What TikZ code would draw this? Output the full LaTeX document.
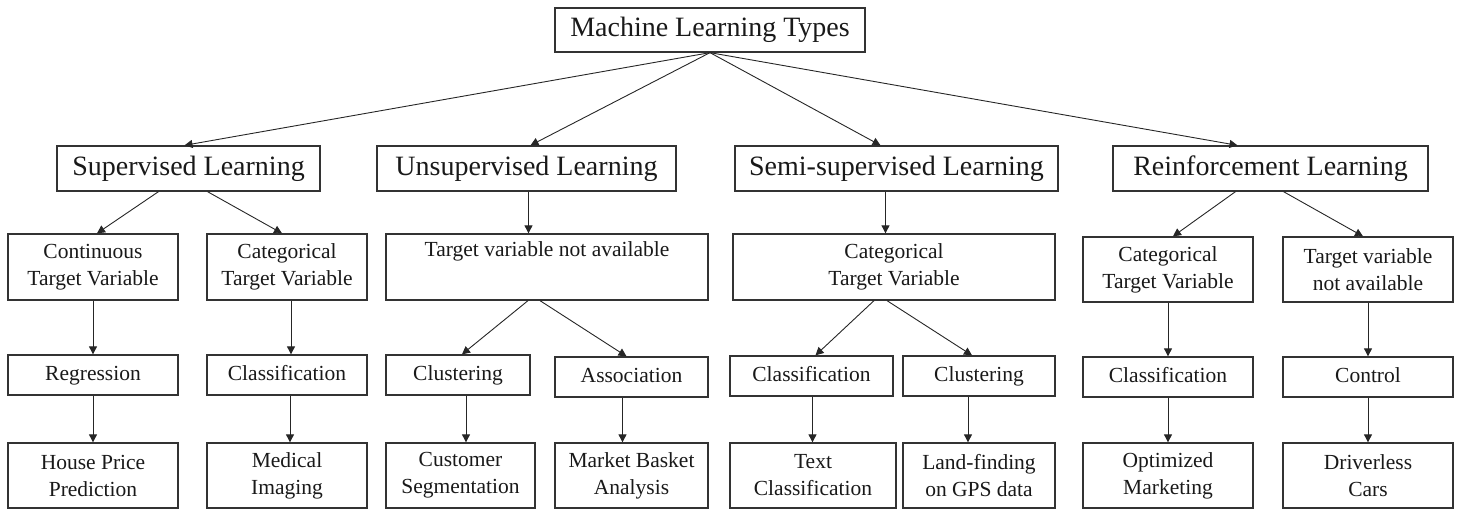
\documentclass[tikz,border=0pt]{standalone}
\usepackage{fontspec}
\setmainfont{Liberation Serif}
\usetikzlibrary{arrows.meta}

\begin{document}
\begin{tikzpicture}[x=1pt,y=-1pt,
    box/.style={draw=black!80,line width=1.3pt,inner sep=0pt,align=center,text=black!90},
    big/.style={box,font=\fontsize{28}{32}\selectfont},
    small/.style={box,font=\fontsize{21.5}{27}\selectfont},
    task/.style={small,text height=16pt,text depth=4pt,minimum height=40pt},
    arr/.style={-{Triangle[length=8pt,width=8pt]},line width=0.9pt,black!85}]
  \useasboundingbox (0,0) rectangle (1460,510);
  % root and the four learning types
  \node[big,minimum width=310pt,minimum height=44pt] (ml) at (710,30) {Machine Learning Types};
  \node[big,minimum width=263pt,minimum height=45pt] (sup)  at (188.5,168.5) {Supervised Learning};
  \node[big,minimum width=299pt,minimum height=45pt] (uns)  at (526.5,168.5) {Unsupervised Learning};
  \node[big,minimum width=323pt,minimum height=45pt] (semi) at (896.5,168.5) {Semi-supervised Learning};
  \node[big,minimum width=315pt,minimum height=45pt] (rl)   at (1270.5,168.5) {Reinforcement Learning};
  % target variables
  \node[small,minimum width=170pt,minimum height=66pt] (cont)  at (93,267)    {Continuous\\Target Variable};
  \node[small,minimum width=160pt,minimum height=66pt] (catS)  at (287,267)   {Categorical\\Target Variable};
  \node[small,minimum width=322pt,minimum height=66pt] (tna)   at (547,267)   {Target variable not available\\\strut};
  \node[small,minimum width=322pt,minimum height=66pt] (catSS) at (894,267)   {Categorical\\Target Variable};
  \node[small,minimum width=170pt,minimum height=65pt] (catR)  at (1168,269.5) {Categorical\\Target Variable};
  \node[small,minimum width=170pt,minimum height=65pt] (tnaR)  at (1368,269.5) {Target variable\\not available};
  % tasks
  \node[task,minimum width=170pt] (reg)  at (93,375)    {Regression};
  \node[task,minimum width=160pt] (cls)  at (287,375)   {Classification};
  \node[task,minimum width=144pt] (clu)  at (458,375)   {Clustering};
  \node[task,minimum width=153pt] (asc)  at (631.5,377) {Association};
  \node[task,minimum width=163pt] (clsS) at (811.5,376) {Classification};
  \node[task,minimum width=152pt] (cluS) at (979,376)   {Clustering};
  \node[task,minimum width=170pt] (clsR) at (1168,377)  {Classification};
  \node[task,minimum width=170pt] (ctrl) at (1368,377)  {Control};
  % applications
  \node[small,minimum width=170pt,minimum height=65pt] (house) at (93,475.5)    {House Price\\Prediction};
  \node[small,minimum width=160pt,minimum height=65pt] (med)   at (287,475.5)   {Medical\\Imaging};
  \node[small,minimum width=149pt,minimum height=65pt] (cust)  at (460.5,475.5) {Customer\\Segmentation};
  \node[small,minimum width=153pt,minimum height=65pt] (mba)   at (631.5,475.5) {Market Basket\\Analysis};
  \node[small,minimum width=166pt,minimum height=65pt] (txt)   at (813,475.5)   {Text\\Classification};
  \node[small,minimum width=152pt,minimum height=65pt] (land)  at (979,475.5)   {Land-finding\\on GPS data};
  \node[small,minimum width=170pt,minimum height=65pt] (opt)   at (1168,475.5)  {Optimized\\Marketing};
  \node[small,minimum width=170pt,minimum height=65pt] (drv)   at (1368,475.5)  {Driverless\\Cars};
  % root to learning types
  \draw[arr] (ml.south) -- ([xshift=-4pt]sup.north);
  \draw[arr] (ml.south) -- ([xshift=4pt]uns.north);
  \draw[arr] (ml.south) -- ([xshift=-16pt]semi.north);
  \draw[arr] (ml.south) -- ([xshift=-33pt]rl.north);
  % learning types to target variables
  \draw[arr] ([xshift=-30pt]sup.south) -- ([xshift=4pt]cont.north);
  \draw[arr] ([xshift=19pt]sup.south) -- ([xshift=-5pt]catS.north);
  \draw[arr] ([xshift=2pt]uns.south) -- ([xshift=2pt]uns.south |- tna.north);
  \draw[arr] ([xshift=-11pt]semi.south) -- ([xshift=-11pt]semi.south |- catSS.north);
  \draw[arr] ([xshift=-35pt]rl.south) -- ([xshift=5pt]catR.north);
  \draw[arr] ([xshift=13pt]rl.south) -- ([xshift=-5pt]tnaR.north);
  % target variables to tasks
  \draw[arr] (cont.south) -- (reg.north);
  \draw[arr] ([xshift=4pt]catS.south) -- ([xshift=4pt]catS.south |- cls.north);
  \draw[arr] ([xshift=-19pt]tna.south) -- ([xshift=4pt]clu.north);
  \draw[arr] ([xshift=-7pt]tna.south) -- ([xshift=-5pt]asc.north);
  \draw[arr] ([xshift=-20pt]catSS.south) -- ([xshift=4pt]clsS.north);
  \draw[arr] ([xshift=-7pt]catSS.south) -- ([xshift=-7pt]cluS.north);
  \draw[arr] (catR.south) -- (clsR.north);
  \draw[arr] (tnaR.south) -- (ctrl.north);
  % tasks to applications
  \draw[arr] (reg.south) -- (house.north);
  \draw[arr] ([xshift=3pt]cls.south) -- ([xshift=3pt]cls.south |- med.north);
  \draw[arr] ([xshift=8pt]clu.south) -- ([xshift=8pt]clu.south |- cust.north);
  \draw[arr] ([xshift=-9pt]asc.south) -- ([xshift=-9pt]asc.south |- mba.north);
  \draw[arr] ([xshift=1pt]clsS.south) -- ([xshift=1pt]clsS.south |- txt.north);
  \draw[arr] ([xshift=-11pt]cluS.south) -- ([xshift=-11pt]cluS.south |- land.north);
  \draw[arr] (clsR.south) -- (opt.north);
  \draw[arr] (ctrl.south) -- (drv.north);
\end{tikzpicture}
\end{document}
